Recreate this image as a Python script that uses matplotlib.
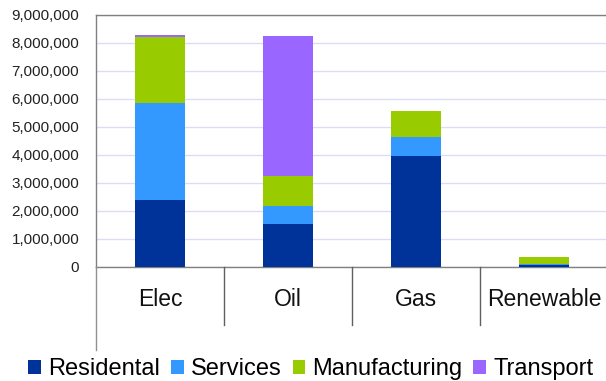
import matplotlib
matplotlib.use("Agg")
import matplotlib.pyplot as plt
from matplotlib.patches import Patch
from matplotlib.lines import Line2D
from matplotlib.transforms import blended_transform_factory
from matplotlib.ticker import FuncFormatter

plt.rcParams['font.family'] = ['Liberation Sans', 'DejaVu Sans']

categories = ["Elec", "Oil", "Gas", "Renewable"]
series_names = ["Residental", "Services", "Manufacturing", "Transport"]
residential = [2390000, 1540000, 3940000, 80000]
services = [3470000, 650000, 710000, 20000]
manufacturing = [2340000, 1040000, 900000, 240000]
transport = [60000, 4990000, 0, 0]
colors = ["#003399", "#3399FF", "#99CC00", "#9966FF"]
y_ticks = [0, 1000000, 2000000, 3000000, 4000000, 5000000, 6000000, 7000000, 8000000, 9000000]

W, H = 606, 381
fig = plt.figure(figsize=(W / 100, H / 100), dpi=100)
ax = fig.add_axes([96 / W, (H - 267) / H, 512 / W, (267 - 14.5) / H])

x = list(range(len(categories)))
bottom = [0] * len(categories)
for vals, col in zip([residential, services, manufacturing, transport], colors):
    ax.bar(x, vals, width=0.39, bottom=bottom, color=col, zorder=3, linewidth=0)
    bottom = [b + v for b, v in zip(bottom, vals)]

ax.set_xlim(-0.5, 3.5)
ax.set_ylim(0, 9000000)
ax.set_yticks(y_ticks)
ax.yaxis.set_major_formatter(FuncFormatter(lambda v, p: f"{int(v):,}"))
ax.tick_params(axis='y', length=0, pad=12, labelsize=11, colors='#222222')
ax.set_xticks([])
ax.grid(axis='y', color='#dcdcf7', linewidth=1, zorder=0)

for side in ['left', 'top', 'bottom']:
    ax.spines[side].set_color('#808080')
    ax.spines[side].set_linewidth(1)
ax.spines['right'].set_visible(False)

# Category band below the value axis
tr = blended_transform_factory(ax.transData, fig.transFigure)
for b in [0.5, 1.5, 2.5]:
    fig.add_artist(Line2D([b, b], [(H - 267) / H, (H - 325) / H], transform=tr,
                          color='#606060', linewidth=1))
fig.add_artist(Line2D([-0.5, -0.5], [(H - 267) / H, (H - 350) / H], transform=tr,
                      color='#909090', linewidth=1))
for xi, name in zip(x, categories):
    fig.text(xi, (H - 300) / H, name, transform=tr, ha='center', va='center',
             fontsize=16.5, color='#111111')

handles = [Patch(facecolor=c, edgecolor='none') for c in colors]
fig.legend(handles, series_names, loc='center', ncol=4,
           bbox_to_anchor=(311 / W, (H - 369) / H), frameon=False,
           fontsize=17, handlelength=0.55, handleheight=0.55,
           handletextpad=0.3, columnspacing=0.45, borderpad=0)

fig.savefig("out.png", dpi=100)
